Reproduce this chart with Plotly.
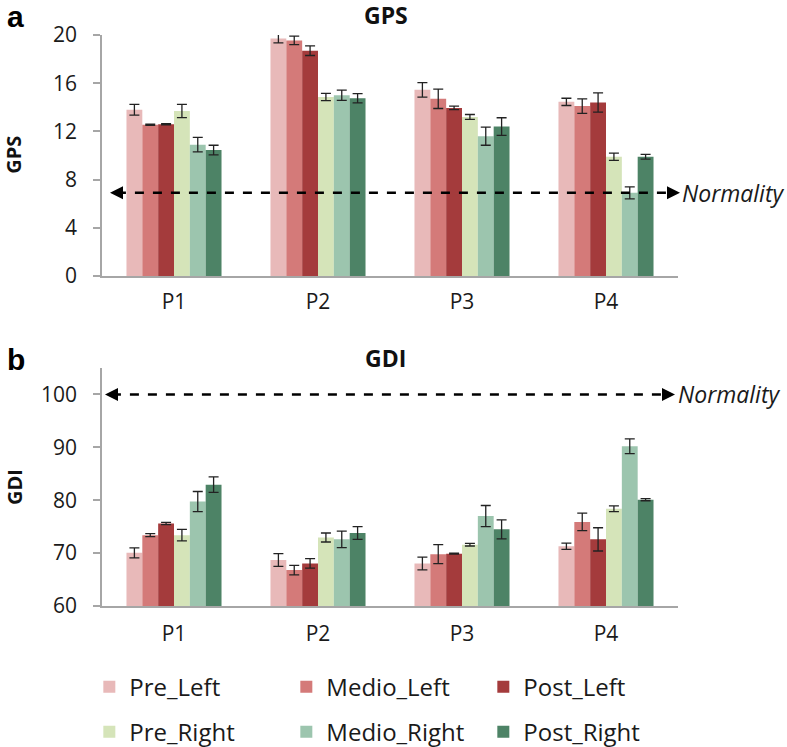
import plotly.graph_objects as go

categories = ["P1", "P2", "P3", "P4"]
series = ["Pre_Left", "Medio_Left", "Post_Left", "Pre_Right", "Medio_Right", "Post_Right"]
colors = ["#E8B9B9", "#D47A79", "#A43B3C", "#D5E4B9", "#9CC5AE", "#4D8366"]

# GPS values and error bars, per series (P1..P4)
gps_pre_left = [13.8, 19.7, 15.45, 14.45]
gps_pre_left_err = [0.45, 0.35, 0.6, 0.3]
gps_medio_left = [12.55, 19.55, 14.7, 14.1]
gps_medio_left_err = [0.05, 0.35, 0.8, 0.6]
gps_post_left = [12.6, 18.7, 13.95, 14.4]
gps_post_left_err = [0.05, 0.4, 0.15, 0.8]
gps_pre_right = [13.7, 14.85, 13.2, 9.9]
gps_pre_right_err = [0.55, 0.3, 0.2, 0.3]
gps_medio_right = [10.9, 15.0, 11.6, 6.9]
gps_medio_right_err = [0.6, 0.42, 0.75, 0.5]
gps_post_right = [10.45, 14.75, 12.4, 9.9]
gps_post_right_err = [0.4, 0.38, 0.73, 0.2]

# GDI values and error bars, per series (P1..P4)
gdi_pre_left = [70.05, 68.7, 68.05, 71.3]
gdi_pre_left_err = [0.95, 1.2, 1.2, 0.6]
gdi_medio_left = [73.4, 66.8, 69.8, 75.9]
gdi_medio_left_err = [0.3, 0.9, 1.8, 1.65]
gdi_post_left = [75.6, 68.05, 69.9, 72.6]
gdi_post_left_err = [0.2, 0.9, 0.1, 2.2]
gdi_pre_right = [73.4, 72.95, 71.6, 78.4]
gdi_pre_right_err = [1.1, 0.85, 0.25, 0.55]
gdi_medio_right = [79.75, 72.6, 77.0, 90.2]
gdi_medio_right_err = [1.9, 1.55, 2.0, 1.4]
gdi_post_right = [82.95, 73.8, 74.5, 80.1]
gdi_post_right_err = [1.45, 1.2, 1.8, 0.2]

gps_normality = 6.9
gdi_normality = 100

gps_ticks = [0, 4, 8, 12, 16, 20]
gdi_ticks = [60, 70, 80, 90, 100]

gps_vals = [gps_pre_left, gps_medio_left, gps_post_left, gps_pre_right, gps_medio_right, gps_post_right]
gps_errs = [gps_pre_left_err, gps_medio_left_err, gps_post_left_err, gps_pre_right_err, gps_medio_right_err, gps_post_right_err]
gdi_vals = [gdi_pre_left, gdi_medio_left, gdi_post_left, gdi_pre_right, gdi_medio_right, gdi_post_right]
gdi_errs = [gdi_pre_left_err, gdi_medio_left_err, gdi_post_left_err, gdi_pre_right_err, gdi_medio_right_err, gdi_post_right_err]

FONT = "Open Sans"
TXT = "#1a1a1a"
err_style = dict(type="data", visible=True, color="#222222", thickness=1.3, width=5)

fig = go.Figure()
for i, name in enumerate(series):
    leg = "legend" if i < 3 else "legend2"
    fig.add_trace(go.Bar(
        x=categories, y=gps_vals[i], name=name, marker=dict(color=colors[i], line=dict(width=0)),
        error_y=dict(array=gps_errs[i], **err_style), xaxis="x", yaxis="y",
        legend=leg, legendgroup=name, cliponaxis=False, showlegend=True))
    fig.add_trace(go.Bar(
        x=categories, y=gdi_vals[i], name=name, marker=dict(color=colors[i], line=dict(width=0)),
        error_y=dict(array=gdi_errs[i], **err_style), xaxis="x2", yaxis="y2",
        legendgroup=name, cliponaxis=False, showlegend=False))

axis_common = dict(showline=True, linecolor="#A6A6A6", linewidth=1.5, showgrid=False, zeroline=False,
                   automargin=False)
xfont = dict(family=FONT, size=21, color=TXT)
yfont = dict(family=FONT, size=21, color=TXT)

fig.update_layout(
    width=787, height=747,
    margin=dict(l=102, r=109, t=35, b=141, autoexpand=False),
    plot_bgcolor="white", paper_bgcolor="white",
    barmode="group", bargap=0.34, bargroupgap=0,
    font=dict(family=FONT, color=TXT),
    xaxis=dict(anchor="y", ticks="", tickfont=xfont, ticklabelstandoff=6, **axis_common),
    xaxis2=dict(anchor="y2", ticks="", tickfont=xfont, ticklabelstandoff=8, **axis_common),
    yaxis=dict(domain=[0.578, 1], range=[0, 20], tickvals=gps_ticks, ticks="outside", ticklen=7,
               tickcolor="#A6A6A6", tickwidth=1.5, tickfont=yfont, ticklabelstandoff=12, **axis_common),
    yaxis2=dict(domain=[0, 0.4168], range=[60, 105], tickvals=gdi_ticks, ticks="outside", ticklen=7,
                tickcolor="#A6A6A6", tickwidth=1.5, tickfont=yfont, ticklabelstandoff=12, **axis_common),
    legend=dict(orientation="h", x=-0.022, y=-0.142, xanchor="left", yanchor="middle",
                entrywidth=152, font=dict(family=FONT, size=24, color=TXT), bgcolor="rgba(0,0,0,0)"),
    legend2=dict(orientation="h", x=-0.022, y=-0.221, xanchor="left", yanchor="middle",
                 entrywidth=152, font=dict(family=FONT, size=24, color=TXT), bgcolor="rgba(0,0,0,0)"),
)

# Normality dashed lines with arrowheads
def normality(yref, yval, x0, x1, xtext):
    fig.add_shape(type="line", xref="paper", yref=yref, x0=x0 + 0.012, x1=x1 - 0.012, y0=yval, y1=yval,
                  line=dict(color="black", width=2.5, dash="dash"))
    fig.add_annotation(xref="paper", yref=yref, x=x0, y=yval, ax=14, ay=0, text="", showarrow=True,
                       arrowhead=2, arrowsize=1.3, arrowwidth=2, arrowcolor="black")
    fig.add_annotation(xref="paper", yref=yref, x=x1, y=yval, ax=-14, ay=0, text="", showarrow=True,
                       arrowhead=2, arrowsize=1.3, arrowwidth=2, arrowcolor="black")
    fig.add_annotation(xref="paper", yref=yref, x=xtext, y=yval, text="<i>Normality</i>", showarrow=False,
                       xanchor="left", yanchor="middle",
                       font=dict(family=FONT, size=23, color=TXT))

normality("y", gps_normality, 0.0139, 1.0035, 1.004)
normality("y2", gdi_normality, 0.0052, 0.9948, 0.997)

# Titles, axis titles and panel letters
fig.add_annotation(xref="paper", yref="paper", x=0.493, y=1.035, text="<b>GPS</b>", showarrow=False,
                   xanchor="center", yanchor="middle", font=dict(family=FONT, size=23, color="#111"))
fig.add_annotation(xref="paper", yref="paper", x=0.493, y=0.434, text="<b>GDI</b>", showarrow=False,
                   xanchor="center", yanchor="middle", font=dict(family=FONT, size=23, color="#111"))
fig.add_annotation(xref="paper", yref="paper", x=-0.153, y=0.79, text="<b>GPS</b>", showarrow=False,
                   textangle=-90, xanchor="center", yanchor="middle", font=dict(family=FONT, size=20, color="#111"))
fig.add_annotation(xref="paper", yref="paper", x=-0.153, y=0.208, text="<b>GDI</b>", showarrow=False,
                   textangle=-90, xanchor="center", yanchor="middle", font=dict(family=FONT, size=20, color="#111"))
fig.add_annotation(xref="paper", yref="paper", x=-0.168, y=1.033, text="<b>a</b>", showarrow=False,
                   xanchor="left", yanchor="middle", font=dict(family="Liberation Sans", size=30, color="black"))
fig.add_annotation(xref="paper", yref="paper", x=-0.168, y=0.431, text="<b>b</b>", showarrow=False,
                   xanchor="left", yanchor="middle", font=dict(family="Liberation Sans", size=30, color="black"))

# Remove the default 8px page margin so the figure fills the window exactly.
fig.write_html("out.html", config={"displayModeBar": False},
               post_script="document.body.style.margin='0';")
